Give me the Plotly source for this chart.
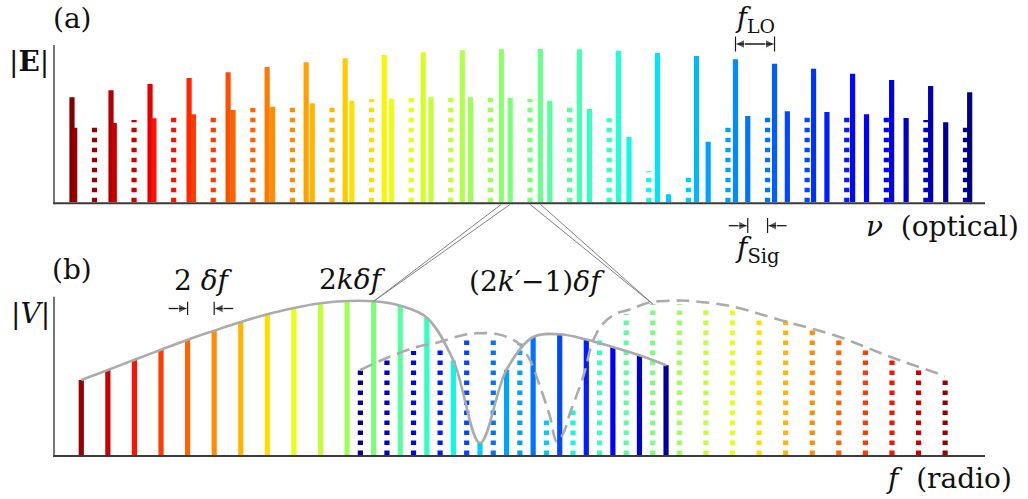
import numpy as np
import plotly.graph_objects as go

W, H = 1028, 499

# ---------------- (a) optical spectrum (frequency unit: f_LO) ----------------
nu_lo0 = 0.443          # first local-oscillator comb line
f_lo = 1.0              # LO comb spacing
nu_sig0 = 0.512         # first signal comb line
f_sig = 0.5072          # signal comb spacing (f_LO/2 + delta f)

# LO comb line amplitudes, n = 0..23
lo_amp = [105, 112, 118.3, 124.3, 130, 135.3, 140, 144, 147.3, 150, 152, 153,
          153.3, 153, 151.6, 149.3, 146.3, 143, 138.6, 133.6, 128.6, 122.3, 116.3, 110]
# signal lines m = 2n (solid) and m = 2n+1 (dotted), n = 0..22
sig_even_amp = [74.6, 79.3, 84, 88, 92.3, 95.6, 99, 101.6, 103.6, 105, 105, 104.6,
                101.6, 93.3, 65.3, 8, 60.6, 86.3, 91, 90.3, 88, 84.3, 80]
sig_odd_amp = [76.6, 82.3, 86, 87, 94.3, 97, 97, 103, 104.3, 105.3, 105.3, 103.3,
               97.3, 84, 31, 25.6, 76.6, 87.3, 87.3, 87.3, 86.3, 82.3, 76.6]

# ---------------- (b) radio-frequency beat notes (unit: delta f) ----------------
beat_even_k = list(range(1, 24))        # lines at 2k * delta f
beat_even_amp = [75, 85, 95.3, 105.3, 115.3, 124.3, 133, 140.7, 147, 151.7, 154, 153.7,
                 149.3, 137.3, 94.5, 12, 85.3, 118, 120.7, 115.5, 108, 99.7, 89.7]
beat_odd_k = list(range(12, 35))        # lines at (2k'-1) * delta f
beat_odd_amp = [85, 95.7, 104, 108, 118.7, 118.7, 111.5, 36.5, 44.5, 118.7, 141, 151,
                151, 150, 149, 139, 136.7, 129.3, 119, 109, 98.3, 88.3, 78.3]
# envelope of the odd beat notes
env_odd_f = [23, 24.98, 27.24, 28.74, 30.75, 31.75, 33.26, 34.26, 34.88, 35.76, 36.52,
             37.27, 37.77, 38.27, 38.77, 39.77, 40.53, 41.28, 42.29, 43.16, 44.79,
             46.55, 47.55, 50.81, 54.57, 58.84, 62.85, 67]
env_odd_amp = [85, 97, 108, 112.3, 120, 121.7, 121, 116.7, 111.7, 95, 68.3, 38.3, 13.3,
               21.7, 41.7, 78.3, 115, 131.7, 141.7, 145, 152.5, 154.3, 154.3, 149, 135,
               119, 98.3, 79]

n_lo = len(lo_amp)
n_sig = len(sig_even_amp)
lo_nu = [nu_lo0 + n * f_lo for n in range(n_lo)]
sig_nu = [nu_sig0 + m * f_sig for m in range(2 * n_sig)]
beat_even_f = [2 * k for k in beat_even_k]
beat_odd_f = [2 * k - 1 for k in beat_odd_k]


def jet(t):
    r = np.interp(t, [0, 0.35, 0.66, 0.89, 1], [0, 0, 1, 1, 0.5])
    g = np.interp(t, [0, 0.125, 0.375, 0.64, 0.91, 1], [0, 0, 1, 1, 0, 0])
    b = np.interp(t, [0, 0.11, 0.34, 0.65, 1], [0.5, 1, 1, 0, 0])
    return "rgb(%d,%d,%d)" % (round(r * 255), round(g * 255), round(b * 255))


lo_col = [jet(1 - n / (n_lo - 1)) for n in range(n_lo)]
sig_col = [jet(1 - (n + 0.5) / (n_lo - 1)) for n in range(n_sig)]

# axes geometry (pixels)
X0, X1 = 54.7, 985
A_BOT, A_TOP = 202.3, 45
B_BOT, B_TOP = 455, 296.7
XA_RANGE = [0, (X1 - X0) / 39.03]
YA_RANGE = [0, A_BOT - A_TOP]
XB_RANGE = [0, 70]
YB_RANGE = [0, B_BOT - B_TOP]
XDOM = [X0 / W, X1 / W]
YA_DOM = [1 - A_BOT / H, 1 - A_TOP / H]
YB_DOM = [1 - B_BOT / H, 1 - B_TOP / H]


def to_paper(v, rng, dom):
    return dom[0] + (v - rng[0]) / (rng[1] - rng[0]) * (dom[1] - dom[0])


def xa_p(v):
    return to_paper(v, XA_RANGE, XDOM)


def xb_p(v):
    return to_paper(v, XB_RANGE, XDOM)


def ypx(y):
    return 1 - y / H


fig = go.Figure()
DOT = "4.5px,5.5px"
BW = 5.2
INK = "#1a1a1a"


def vline(x, h, color, xa, ya, dash=None):
    fig.add_trace(go.Scatter(
        x=[x, x], y=[0, h], mode="lines",
        line=dict(color=color, width=BW, dash=dash),
        xaxis=xa, yaxis=ya, hoverinfo="skip", showlegend=False))


# (a) dotted odd signal lines, LO lines, solid even signal lines
for n in range(n_sig):
    vline(sig_nu[2 * n + 1], sig_odd_amp[n], sig_col[n], "x", "y", DOT)
for n in range(n_lo):
    vline(lo_nu[n], lo_amp[n], lo_col[n], "x", "y")
    if n < n_sig:
        vline(sig_nu[2 * n], sig_even_amp[n], sig_col[n], "x", "y")

# (b) beat notes
for i in range(len(beat_even_k)):
    vline(beat_even_f[i], beat_even_amp[i], sig_col[i], "x2", "y2")
for j in range(len(beat_odd_k)):
    vline(beat_odd_f[j], beat_odd_amp[j], sig_col[n_sig - 1 - j], "x2", "y2", DOT)

# envelopes
fig.add_trace(go.Scatter(
    x=beat_even_f, y=beat_even_amp, mode="lines",
    line=dict(color="#ababab", width=2.6, shape="spline", smoothing=1),
    xaxis="x2", yaxis="y2", hoverinfo="skip", showlegend=False))
fig.add_trace(go.Scatter(
    x=env_odd_f, y=env_odd_amp, mode="lines",
    line=dict(color="#ababab", width=2.6, shape="spline", smoothing=1, dash="13px,7px"),
    xaxis="x2", yaxis="y2", hoverinfo="skip", showlegend=False))

shapes = []

# axis lines of both panels
AXC = "#3a3a3a"
for ydom in (YA_DOM, YB_DOM):
    shapes.append(dict(type="line", xref="paper", yref="paper", layer="above",
                       x0=XDOM[0] - 1.4 / W, x1=XDOM[1], y0=ydom[0] - 1 / H, y1=ydom[0] - 1 / H,
                       line=dict(color=AXC, width=2)))
    shapes.append(dict(type="line", xref="paper", yref="paper", layer="above",
                       x0=XDOM[0] - 0.7 / W, x1=XDOM[0] - 0.7 / W, y0=ydom[0] - 2 / H, y1=ydom[1],
                       line=dict(color=AXC, width=1.4)))

# connector lines from the optical pair to its beat note
k_sel = 11
pairs = [
    ((lo_nu[k_sel], sig_nu[2 * k_sel]), (beat_even_f[k_sel], beat_even_amp[k_sel])),
    ((sig_nu[2 * k_sel + 1], lo_nu[k_sel + 1]),
     (beat_odd_f[n_sig - 1 - k_sel], beat_odd_amp[n_sig - 1 - k_sel])),
]
for (xa1, xa2), (xb, yb) in pairs:
    for xa in (xa1, xa2):
        shapes.append(dict(
            type="line", xref="paper", yref="paper",
            x0=xa_p(xa), y0=YA_DOM[0] - 2 / H,
            x1=xb_p(xb), y1=to_paper(yb, YB_RANGE, YB_DOM),
            line=dict(color="#808080", width=1)))


def tick(xp, ytop, ybot):
    shapes.append(dict(type="line", xref="paper", yref="paper", x0=xp, x1=xp,
                       y0=ypx(ybot), y1=ypx(ytop), line=dict(color=INK, width=1.2)))


def arrow(x_tail, x_tip, yp, both=False):
    # arrow drawn on the full-figure overlay axes (paper units)
    fig.add_trace(go.Scatter(
        x=[x_tail, x_tip], y=[yp, yp], mode="lines+markers",
        line=dict(color=INK, width=1.3),
        marker=dict(color=INK, size=[9 if both else 0, 9],
                    symbol=["arrow-left" if x_tip > x_tail else "arrow-right",
                            "arrow-right" if x_tip > x_tail else "arrow-left"]),
        xaxis="x3", yaxis="y3", hoverinfo="skip", showlegend=False, cliponaxis=False))


ARW = 19 / W   # arrow shaft length
# f_LO marker
tick(xa_p(lo_nu[17]), 36.5, 51.5)
tick(xa_p(lo_nu[18]), 36.5, 51.5)
arrow(xa_p(lo_nu[17]), xa_p(lo_nu[18]), ypx(44), both=True)
# f_Sig marker
tick(xa_p(sig_nu[34]), 218, 233)
tick(xa_p(sig_nu[35]), 218, 233)
arrow(xa_p(sig_nu[34]) - ARW, xa_p(sig_nu[34]), ypx(225.7))
arrow(xa_p(sig_nu[35]) + ARW, xa_p(sig_nu[35]), ypx(225.7))
# 2 delta f marker
tick(xb_p(beat_even_f[4]), 301.7, 315)
tick(xb_p(beat_even_f[5]), 301.7, 315)
arrow(xb_p(beat_even_f[4]) - ARW, xb_p(beat_even_f[4]), ypx(308.5))
arrow(xb_p(beat_even_f[5]) + ARW, xb_p(beat_even_f[5]), ypx(308.5))

annotations = []
FS = 28


def label(text, xpx, y, anchor="center", size=FS, yanchor="middle"):
    annotations.append(dict(
        text=text, x=xpx / W, y=ypx(y), xref="paper", yref="paper",
        xanchor=anchor, yanchor=yanchor, showarrow=False,
        font=dict(family="DejaVu Serif", size=size, color="#111")))


label("(a)", 72, 0, yanchor="top")
label("|<b>E</b>|", 29, 61)
label("(b)", 72, 269)
label("|<i>V</i>|", 30, 313)
label("<i>f</i><sub>LO</sub>", 755, 0, size=27, yanchor="top")
label("<i>f</i><sub>Sig</sub>", 757, 250)
label("<i>ν</i>  (optical)", 1021, 226, anchor="right")
label("<i>f</i>  (radio)", 1014, 478, anchor="right")
label("2 <i>δf</i>", 203, 280)
label("2<i>kδf</i>", 352, 279)
label("(2<i>k</i>′−1)<i>δf</i>", 537, 281)

hidden = dict(visible=False, showgrid=False, zeroline=False, fixedrange=True)
fig.update_layout(
    width=W, height=H, margin=dict(l=0, r=0, t=0, b=0),
    paper_bgcolor="white", plot_bgcolor="rgba(0,0,0,0)", showlegend=False,
    xaxis=dict(hidden, domain=XDOM, range=XA_RANGE, anchor="y"),
    yaxis=dict(hidden, domain=YA_DOM, range=YA_RANGE, anchor="x"),
    xaxis2=dict(hidden, domain=XDOM, range=XB_RANGE, anchor="y2"),
    yaxis2=dict(hidden, domain=YB_DOM, range=YB_RANGE, anchor="x2"),
    xaxis3=dict(hidden, domain=[0, 1], range=[0, 1], anchor="y3"),
    yaxis3=dict(hidden, domain=[0, 1], range=[0, 1], anchor="x3"),
    shapes=shapes, annotations=annotations,
)

fig.write_html("out.html")
